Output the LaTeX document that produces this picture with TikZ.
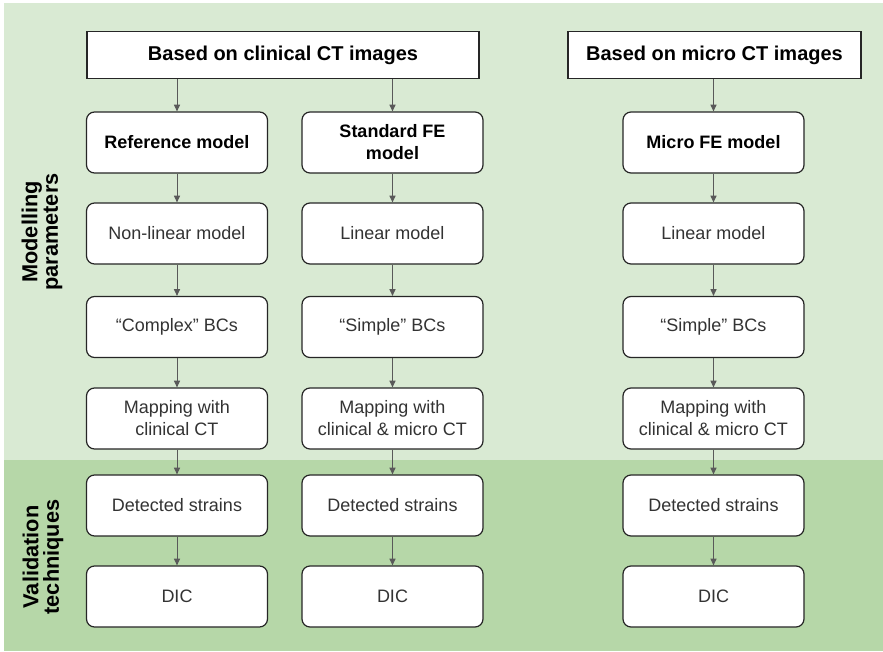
\documentclass[tikz,border=0pt]{standalone}
\usepackage{fontspec}
\setmainfont{Liberation Sans}
\usetikzlibrary{arrows.meta, positioning}

\definecolor{paramgreen}{HTML}{D9EAD3}
\definecolor{validgreen}{HTML}{B6D7A8}
\definecolor{arrowgrey}{HTML}{595959}

\tikzset{
    header/.style={draw=black!85, fill=white, line width=0.9pt, minimum height=35.25pt,
        font=\fontsize{15}{18}\selectfont\bfseries},
    model/.style={draw=black!85, fill=white, line width=0.9pt, rounded corners=6pt,
        minimum width=135.75pt, minimum height=45.75pt, align=center, text=black!80,
        font=\fontsize{13.5}{16.5}\selectfont},
    lead/.style={model, text=black, font=\fontsize{13.5}{16.5}\selectfont\bfseries},
    flow/.style={draw=arrowgrey, line width=0.7pt, -{Triangle[length=5pt,width=4.5pt]}},
    side/.style={rotate=90, align=center, font=\fontsize{16.3}{15.5}\selectfont\bfseries}
}

\begin{document}
\begin{tikzpicture}[x=0.75pt, y=-0.75pt]
        \useasboundingbox (0,0) rectangle (883,652);

        % Background bands
        \fill[paramgreen] (4,3) rectangle (883,460);
        \fill[validgreen] (4,460) rectangle (883,651);

        % Side labels
        \node[side] (params) at (42,232) {Modelling\\parameters};
        \node[side] (valid) at (43,557) {Validation\\techniques};

        % Image sources
        \node[header, minimum width=294pt] (clinical) at (283,55) {Based on clinical CT images};
        \node[header, minimum width=219.75pt] (microct) at (714.5,55) {Based on micro CT images};

        % Reference model column
        \node[lead] (ref) at (177,142.5) {Reference model};
        \node[model] (refmat) at (177,233.5) {Non-linear model};
        \node[model] (refbc) at (177,327) {“Complex” BCs};
        \node[model] (refmap) at (177,418.5) {Mapping with\\clinical CT};
        \node[model] (refstrain) at (177,505.5) {Detected strains};
        \node[model] (refdic) at (177,596.5) {DIC};

        % Standard FE column
        \node[lead] (std) at (392.5,142.5) {Standard FE\\model};
        \node[model] (stdmat) at (392.5,233.5) {Linear model};
        \node[model] (stdbc) at (392.5,327) {“Simple” BCs};
        \node[model] (stdmap) at (392.5,418.5) {Mapping with\\clinical \& micro CT};
        \node[model] (stdstrain) at (392.5,505.5) {Detected strains};
        \node[model] (stddic) at (392.5,596.5) {DIC};

        % Micro FE column
        \node[lead] (mic) at (713.5,142.5) {Micro FE model};
        \node[model] (micmat) at (713.5,233.5) {Linear model};
        \node[model] (micbc) at (713.5,327) {“Simple” BCs};
        \node[model] (micmap) at (713.5,418.5) {Mapping with\\clinical \& micro CT};
        \node[model] (micstrain) at (713.5,505.5) {Detected strains};
        \node[model] (micdic) at (713.5,596.5) {DIC};

        % Arrows
        \draw[flow] (clinical.south -| ref.north) -- (ref.north);
        \draw[flow] (clinical.south -| std.north) -- (std.north);
        \draw[flow] (microct.south -| mic.north) -- (mic.north);
        \draw[flow] (ref) -- (refmat);
        \draw[flow] (refmat) -- (refbc);
        \draw[flow] (refbc) -- (refmap);
        \draw[flow] (refmap) -- (refstrain);
        \draw[flow] (refstrain) -- (refdic);
        \draw[flow] (std) -- (stdmat);
        \draw[flow] (stdmat) -- (stdbc);
        \draw[flow] (stdbc) -- (stdmap);
        \draw[flow] (stdmap) -- (stdstrain);
        \draw[flow] (stdstrain) -- (stddic);
        \draw[flow] (mic) -- (micmat);
        \draw[flow] (micmat) -- (micbc);
        \draw[flow] (micbc) -- (micmap);
        \draw[flow] (micmap) -- (micstrain);
        \draw[flow] (micstrain) -- (micdic);
    \end{tikzpicture}
\end{document}
